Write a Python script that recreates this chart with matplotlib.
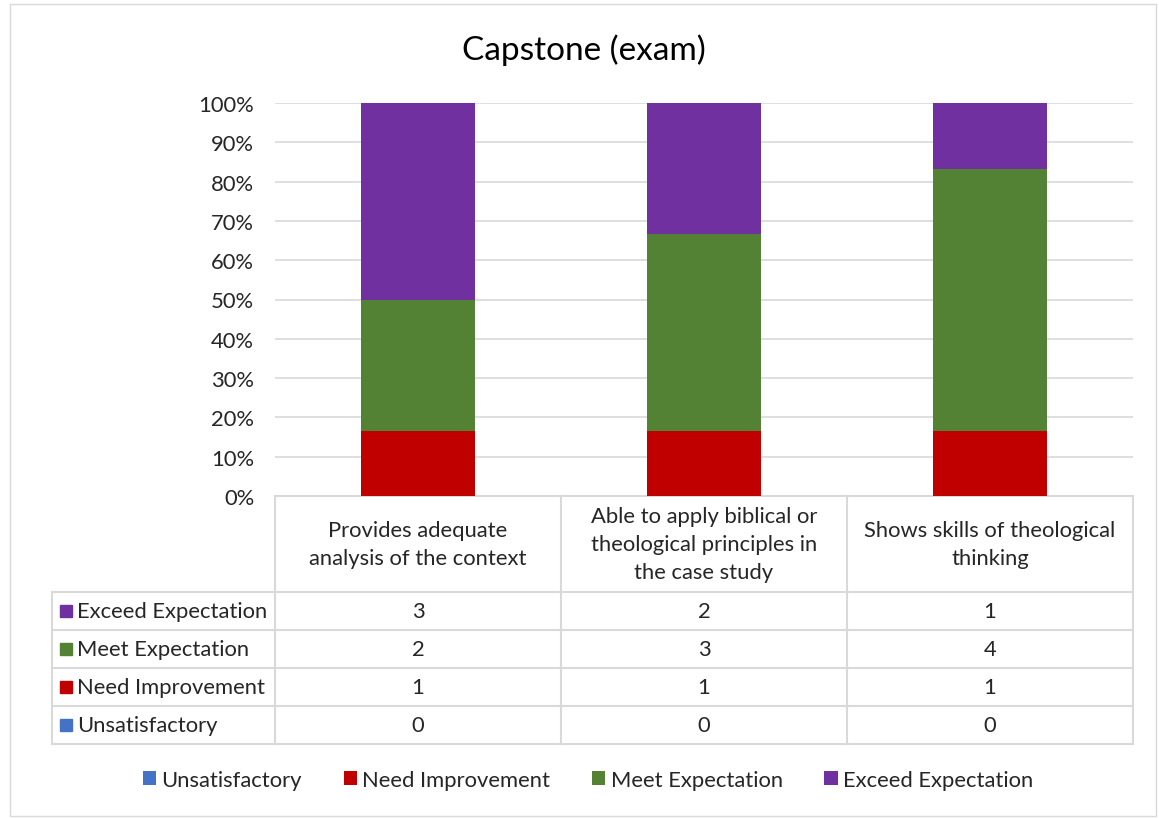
import matplotlib
matplotlib.use("Agg")
import matplotlib.pyplot as plt
from matplotlib.patches import Rectangle
import numpy as np

plt.rcParams['font.family'] = ['Lato', 'DejaVu Sans']

title = "Capstone (exam)"
categories = ["Provides adequate\nanalysis of the context",
              "Able to apply biblical or\ntheological principles in\nthe case study",
              "Shows skills of theological\nthinking"]
series_names = ["Unsatisfactory", "Need Improvement", "Meet Expectation", "Exceed Expectation"]
unsatisfactory = [0, 0, 0]
need_improvement = [1, 1, 1]
meet_expectation = [2, 3, 4]
exceed_expectation = [3, 2, 1]
colors = ["#4472C4", "#C00000", "#548235", "#7030A0"]
yticks = [0, 10, 20, 30, 40, 50, 60, 70, 80, 90, 100]

W, H = 1159, 820
FS = 15.8
fig = plt.figure(figsize=(W / 100, H / 100), dpi=100)

# overlay axes in pixel coords
ov = fig.add_axes([0, 0, 1, 1], zorder=0)
ov.set_xlim(0, W)
ov.set_ylim(H, 0)
ov.axis('off')

# plot area
px0, px1, py0, py1 = 275, 1133, 104, 497
ax = fig.add_axes([px0 / W, 1 - py1 / H, (px1 - px0) / W, (py1 - py0) / H], zorder=1)
ax.patch.set_alpha(0)

data = np.array([unsatisfactory, need_improvement, meet_expectation, exceed_expectation], dtype=float)
totals = data.sum(axis=0)
pct = data / totals * 100
x = np.arange(len(categories))
bottom = np.zeros(len(categories))
for i, name in enumerate(series_names):
    ax.bar(x, pct[i], bottom=bottom, width=0.4, color=colors[i], zorder=3, label=name)
    bottom += pct[i]

ax.set_xlim(-0.5, len(categories) - 0.5)
ax.set_ylim(0, 100)
ax.set_yticks(yticks)
ax.set_yticklabels([f"{v}%" for v in yticks], fontsize=FS, color="#262626")
ax.tick_params(axis='y', length=0, pad=15)
ax.set_xticks([])
ax.grid(axis='y', color="#D9D9D9", linewidth=1.2, zorder=0)
for s in ax.spines.values():
    s.set_visible(False)

fig.text(584 / W, 1 - 50 / H, title, ha='center', va='center', fontsize=24, color="#000000")

# data table
lc = "#D9D9D9"
col_edges = [px0 + (px1 - px0) * k / 3 for k in range(4)]
row_edges = [497, 593, 631, 669, 707, 745]
left = 52
for xe in col_edges:
    ov.plot([xe, xe], [row_edges[0], row_edges[-1]], color=lc, lw=1.5)
ov.plot([left, left], [row_edges[1], row_edges[-1]], color=lc, lw=1.5)
ov.plot([px0, px1], [row_edges[0], row_edges[0]], color=lc, lw=1.5)
for ye in row_edges[1:]:
    ov.plot([left, px1], [ye, ye], color=lc, lw=1.5)

for j, cat in enumerate(categories):
    cx = (col_edges[j] + col_edges[j + 1]) / 2
    ov.text(cx, (row_edges[0] + row_edges[1]) / 2, cat, ha='center', va='center',
            fontsize=FS, color="#262626", linespacing=1.5)

order = [3, 2, 1, 0]
for r, si in enumerate(order):
    yc = (row_edges[r + 1] + row_edges[r + 2]) / 2
    ov.add_patch(Rectangle((60, yc - 6), 12, 12, color=colors[si]))
    ov.text(77, yc, series_names[si], ha='left', va='center', fontsize=FS, color="#262626")
    for j in range(len(categories)):
        cx = (col_edges[j] + col_edges[j + 1]) / 2
        ov.text(cx, yc, f"{int(data[si][j])}", ha='center', va='center', fontsize=FS, color="#262626")

# outer frame
ov.add_patch(Rectangle((10, 5), W - 13, H - 8, fill=False, edgecolor="#D9D9D9", lw=1))

handles, labels = ax.get_legend_handles_labels()
fig.legend(handles, labels, loc='center', bbox_to_anchor=(588 / W, 1 - 781 / H), ncol=4,
           frameon=False, fontsize=FS, handlelength=0.6, handleheight=0.6,
           handletextpad=0.25, columnspacing=1.9, labelcolor="#262626")

fig.savefig("out.png", dpi=100)
